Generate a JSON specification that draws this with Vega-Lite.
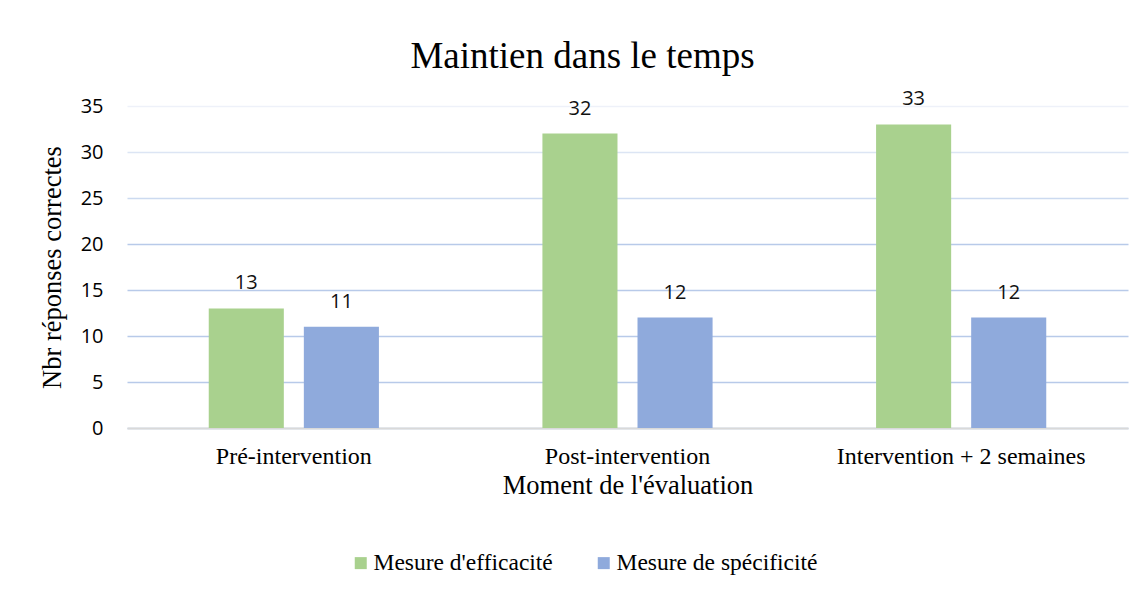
{
  "$schema": "https://vega.github.io/schema/vega-lite/v6.json",
  "autosize": "none",
  "width": 1001,
  "height": 322,
  "padding": {"left": 127, "top": 106, "right": 19, "bottom": 163},
  "background": "white",
  "title": {
    "text": "Maintien dans le temps",
    "font": "Liberation Serif",
    "fontSize": 37,
    "fontWeight": "normal",
    "color": "#000000",
    "anchor": "middle",
    "dx": -45,
    "baseline": "alphabetic",
    "offset": -16
  },
  "data": {
    "values": [
      {"moment": "Pré-intervention", "mesure": "Mesure d'efficacité", "n": 13},
      {"moment": "Pré-intervention", "mesure": "Mesure de spécificité", "n": 11},
      {"moment": "Post-intervention", "mesure": "Mesure d'efficacité", "n": 32},
      {"moment": "Post-intervention", "mesure": "Mesure de spécificité", "n": 12},
      {"moment": "Intervention + 2 semaines", "mesure": "Mesure d'efficacité", "n": 33},
      {"moment": "Intervention + 2 semaines", "mesure": "Mesure de spécificité", "n": 12}
    ]
  },
  "encoding": {
    "x": {
      "field": "moment",
      "type": "nominal",
      "sort": ["Pré-intervention", "Post-intervention", "Intervention + 2 semaines"],
      "scale": {"paddingInner": 0.49, "paddingOuter": 0.245},
      "axis": {
        "title": "Moment de l'évaluation",
        "titleFont": "Liberation Serif",
        "titleFontSize": 26.5,
        "titleFontWeight": "normal",
        "titleColor": "#000000",
        "titleBaseline": "alphabetic",
        "titlePadding": 25,
        "labelFont": "Liberation Serif",
        "labelFontSize": 24,
        "labelColor": "#000000",
        "labelAngle": 0,
        "labelLimit": 500,
        "labelBaseline": "alphabetic",
        "labelPadding": 35,
        "ticks": false,
        "tickSize": 0,
        "domain": true,
        "domainColor": "#D9D9D9",
        "domainWidth": 2,
        "grid": false
      }
    },
    "xOffset": {
      "field": "mesure",
      "type": "nominal",
      "sort": ["Mesure d'efficacité", "Mesure de spécificité"],
      "scale": {"paddingInner": 0.2105, "paddingOuter": 0}
    },
    "y": {
      "field": "n",
      "type": "quantitative",
      "scale": {"domain": [0, 35], "nice": false},
      "axis": {
        "values": [0, 5, 10, 15, 20, 25, 30, 35],
        "title": "Nbr  réponses correctes",
        "titleFont": "Liberation Serif",
        "titleFontSize": 26.5,
        "titleFontWeight": "normal",
        "titleColor": "#000000",
        "titlePadding": 14,
        "labelFont": "Open Sans",
        "labelFontSize": 20,
        "labelColor": "#000000",
        "labelPadding": 24,
        "ticks": false,
        "tickSize": 0,
        "domain": false,
        "grid": true,
        "gridColor": {
          "condition": [
            {"test": "datum.value == 35", "value": "#EEF1F9"},
            {"test": "datum.value == 30", "value": "#DCE5F4"},
            {"test": "datum.value == 25", "value": "#CCDAF0"}
          ],
          "value": "#B8CAE9"
        },
        "gridWidth": 1.5
      }
    }
  },
  "layer": [
    {
      "mark": {"type": "bar"},
      "encoding": {
        "color": {
          "field": "mesure",
          "type": "nominal",
          "sort": ["Mesure d'efficacité", "Mesure de spécificité"],
          "scale": {
            "domain": ["Mesure d'efficacité", "Mesure de spécificité"],
            "range": ["#A9D18E", "#8FAADC"]
          },
          "legend": {
            "title": null,
            "orient": "none",
            "direction": "horizontal",
            "legendX": 222,
            "legendY": 445,
            "symbolType": "square",
            "symbolSize": 144,
            "symbolStrokeWidth": 0,
            "labelFont": "Liberation Serif",
            "labelFontSize": 23.5,
            "labelColor": "#000000",
            "labelLimit": 500,
            "labelOffset": 1,
            "columnPadding": 39
          }
        }
      }
    },
    {
      "mark": {
        "type": "text",
        "baseline": "alphabetic",
        "dy": -19,
        "font": "Open Sans",
        "fontSize": 20,
        "color": "#111111"
      },
      "encoding": {
        "text": {"field": "n", "type": "quantitative"}
      }
    }
  ],
  "config": {
    "view": {"stroke": null}
  }
}
